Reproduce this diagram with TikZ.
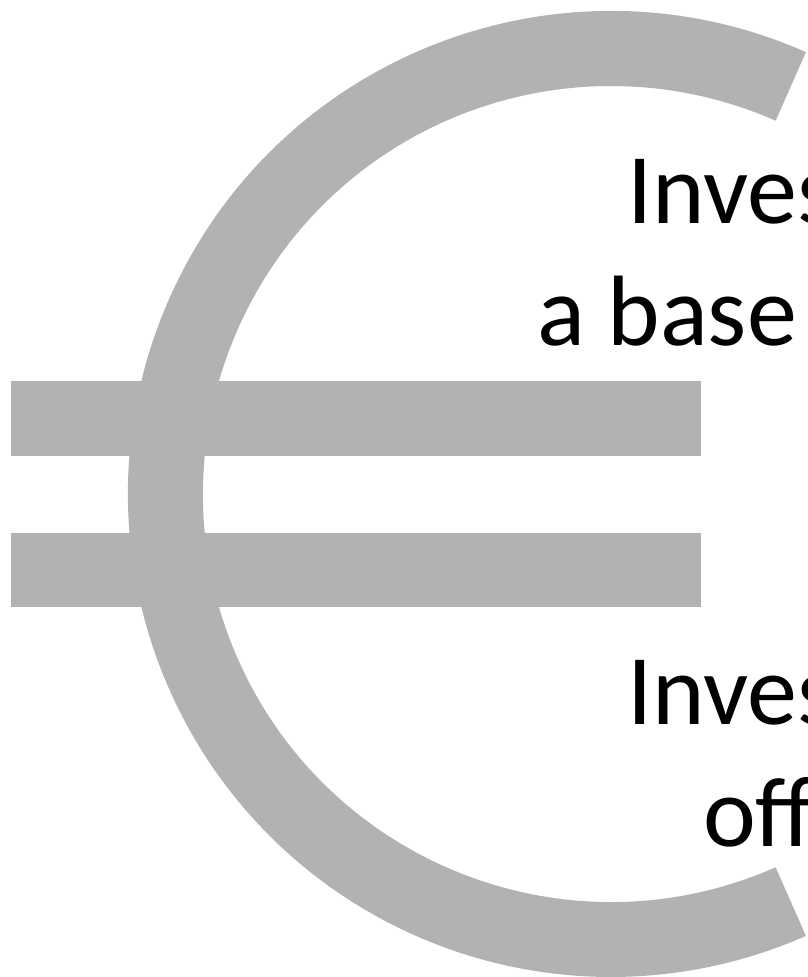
\documentclass[tikz,border=0pt]{standalone}
\usepackage{fontspec}
\setmainfont{Carlito}
\definecolor{eurogray}{HTML}{B2B2B2}
\tikzset{
  euroshape/.style={fill=eurogray,draw=none},
  biglabel/.style={anchor=base west,inner sep=0pt,outer sep=0pt,text=black,font=\fontsize{100pt}{122pt}\selectfont}
}
\begin{document}
\begin{tikzpicture}[x=1pt,y=1pt]
\useasboundingbox (0,0) rectangle (808,977);
\clip (0,0) rectangle (808,977);
\fill[white] (0,0) rectangle (808,977);
% euro sign: ring and two bars (pixel y measured from the top, so y = 977 - py)
\path[euroshape] (611,483) ++(66.2:483) arc[start angle=66.2,end angle=293.8,radius=483]
  -- ++(113.8:75) arc[start angle=293.8,end angle=66.2,radius=408] -- cycle;
\path[euroshape] (10.5,521) rectangle (700.5,596);
\path[euroshape] (10.5,370) rectangle (700.5,444);
% text, cut by the right edge as in the picture
\node[biglabel] (t1) at (627,753) {Inves};
\node[biglabel] (t2) at (537,631) {a base};
\node[biglabel] (t3) at (627,252) {Inves};
\node[biglabel] (t4) at (703,130) {off};
\end{tikzpicture}
\end{document}
